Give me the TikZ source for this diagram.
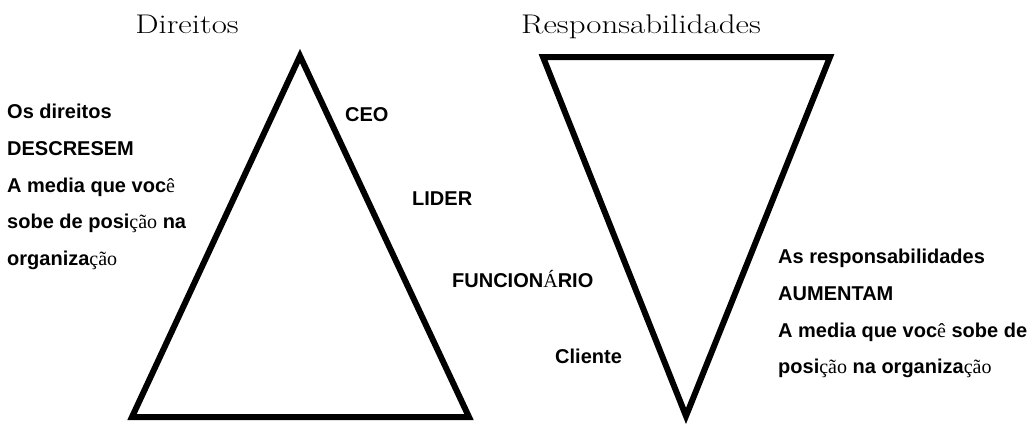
\documentclass[tikz,border=0pt]{standalone}
\usepackage{fontspec}
\setsansfont{Liberation Sans}
\newfontfamily\accf{Liberation Serif}
\newcommand\ac[1]{{\accf\mdseries #1}}
\newcommand\ttltext[1]{\scalebox{1.22}[1]{#1}}
\tikzset{
  tri/.style={draw=black, line width=6pt, line join=miter},
  lbl/.style={anchor=base west, inner sep=0pt, font=\sffamily\bfseries\fontsize{20}{24}\selectfont},
  ttl/.style={anchor=base, inner sep=0pt, font=\rmfamily\fontsize{27}{32}\selectfont}
}
\begin{document}
\begin{tikzpicture}[x=1pt,y=-1pt]
\useasboundingbox (0,0) rectangle (1035,423);
% titles
\node[ttl] (t1) at (187,33) {\ttltext{Direitos}};
\node[ttl] (t2) at (641,33) {\ttltext{Responsabilidades}};
% triangles
\coordinate (a1) at (300,56);
\coordinate (a2) at (132,417);
\coordinate (a3) at (469,417);
\draw[tri] (a1) -- (a2) -- (a3) -- cycle;
\coordinate (b1) at (543,57);
\coordinate (b2) at (830,57);
\coordinate (b3) at (686,416);
\draw[tri] (b1) -- (b2) -- (b3) -- cycle;
% left text
\node[lbl] (l1) at (7,118) {Os direitos};
\node[lbl] (l2) at (7,155) {DESCRESEM};
\node[lbl] (l3) at (7,192) {A media que voc\ac{ê}};
\node[lbl] (l4) at (7,228) {sobe de posi\ac{ção} na};
\node[lbl] (l5) at (7,265) {organiza\ac{ção}};
% level labels
\node[lbl] (ceo) at (345,121) {CEO};
\node[lbl] (lid) at (412,205) {LIDER};
\node[lbl] (fun) at (452,287) {FUNCION\ac{Á}RIO};
\node[lbl] (cli) at (555,363) {Cliente};
% right text
\node[lbl] (r1) at (778,263) {As responsabilidades};
\node[lbl] (r2) at (778,300) {AUMENTAM};
\node[lbl] (r3) at (778,337) {A media que voc\ac{ê} sobe de};
\node[lbl] (r4) at (778,373) {posi\ac{ção} na organiza\ac{ção}};
\end{tikzpicture}
\end{document}
